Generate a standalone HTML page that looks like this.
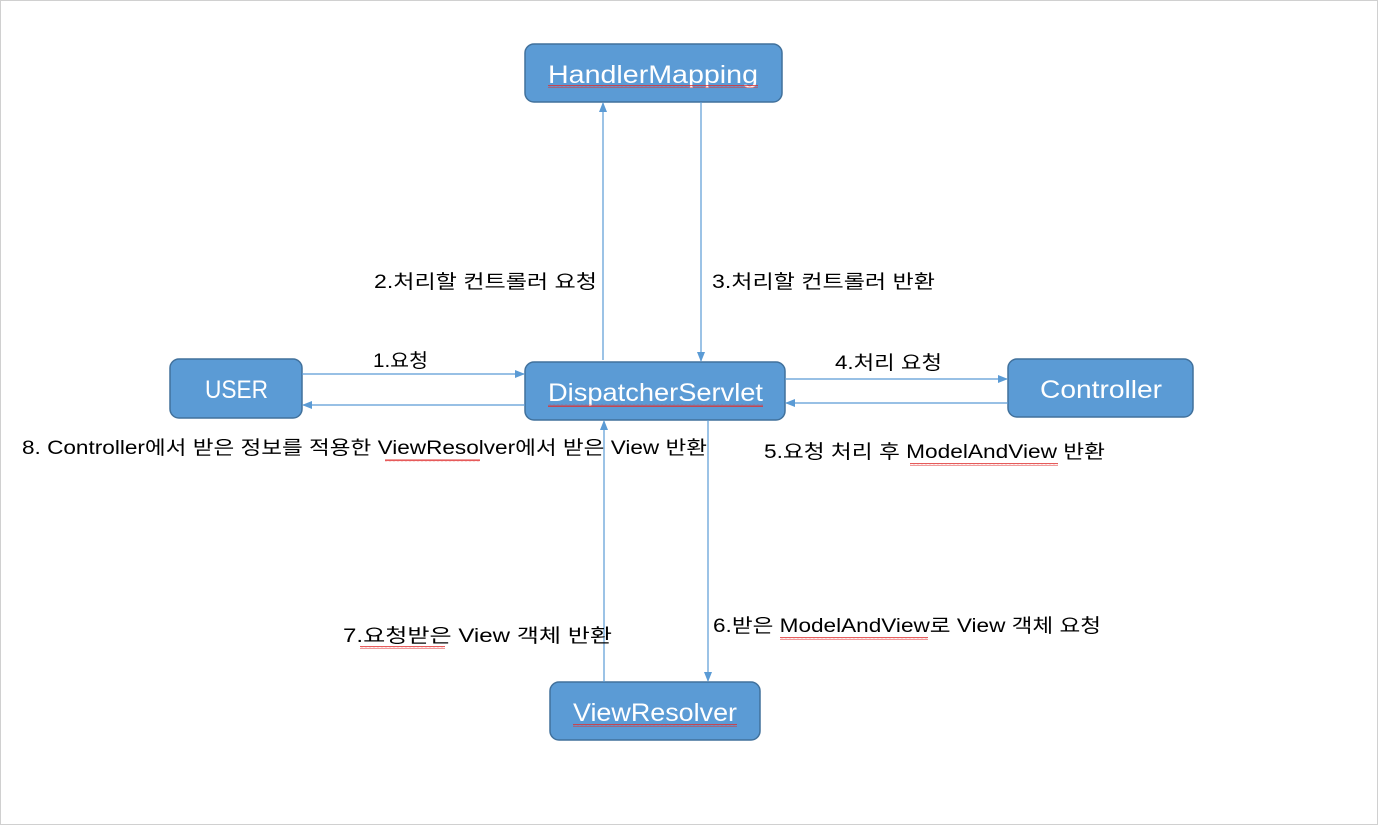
<!DOCTYPE html>
<html><head><meta charset="utf-8"><style>
html,body{margin:0;padding:0;background:#fff;}
svg{display:block;}
text{font-family:"Liberation Sans","Noto Sans CJK KR","NanumGothic",sans-serif;}
</style></head><body>
<svg width="1379" height="825" viewBox="0 0 1379 825">
<defs>
<marker id="a" markerWidth="10" markerHeight="10" refX="9" refY="5" orient="auto" markerUnits="userSpaceOnUse">
<path d="M0,1 L10,5 L0,9 z" fill="#5b9bd5"/></marker>
<pattern id="w" width="4" height="3" patternUnits="userSpaceOnUse"><path d="M0,2 L1,0.5 L2,2 L3,0.5 L4,2" stroke="#e03030" stroke-width="0.8" fill="none"/></pattern>
</defs>
<rect x="0.5" y="0.5" width="1377" height="824" fill="#fff" stroke="#d0d0d0"/>
<g fill="#5b9bd5" stroke="#41719c" stroke-width="1.5">
<rect x="525" y="44" width="257" height="58" rx="9"/>
<rect x="170" y="359" width="132" height="59" rx="9"/>
<rect x="525" y="362" width="260" height="58" rx="9"/>
<rect x="1008" y="359" width="185" height="58" rx="9"/>
<rect x="550" y="682" width="210" height="58" rx="9"/>
</g>
<g fill="#fff" font-size="25" lengthAdjust="spacingAndGlyphs">
<text x="548" y="83" textLength="210" lengthAdjust="spacingAndGlyphs">HandlerMapping</text>
<text x="205" y="398" textLength="63" lengthAdjust="spacingAndGlyphs">USER</text>
<text x="548" y="401" textLength="215" lengthAdjust="spacingAndGlyphs">DispatcherServlet</text>
<text x="1040" y="398" textLength="122" lengthAdjust="spacingAndGlyphs">Controller</text>
<text x="573" y="721" textLength="164" lengthAdjust="spacingAndGlyphs">ViewResolver</text>
</g>
<g fill="url(#w)">
<rect x="548" y="85" width="210" height="3"/>
<rect x="548" y="404" width="215" height="3"/>
<rect x="573" y="724" width="164" height="3"/>
</g>
<g stroke="#5b9bd5" stroke-width="1.2" fill="none" marker-end="url(#a)">
<line x1="603" y1="360" x2="603" y2="103"/>
<line x1="701" y1="102" x2="701" y2="361"/>
<line x1="302" y1="374" x2="524" y2="374"/>
<line x1="525" y1="405" x2="303" y2="405"/>
<line x1="785" y1="379" x2="1007" y2="379"/>
<line x1="1008" y1="403" x2="786" y2="403"/>
<line x1="708" y1="420" x2="708" y2="681"/>
<line x1="604" y1="682" x2="604" y2="421"/>
</g>
<g fill="#000" font-size="19">
<text x="374" y="288" textLength="223" lengthAdjust="spacingAndGlyphs">2.처리할 컨트롤러 요청</text>
<text x="712" y="288" textLength="223" lengthAdjust="spacingAndGlyphs">3.처리할 컨트롤러 반환</text>
<text x="373" y="367" textLength="55" lengthAdjust="spacingAndGlyphs">1.요청</text>
<text x="835" y="369" textLength="107" lengthAdjust="spacingAndGlyphs">4.처리 요청</text>
<text x="22" y="454" textLength="685" lengthAdjust="spacingAndGlyphs">8. Controller에서 받은 정보를 적용한 ViewResolver에서 받은 View 반환</text>
<text x="764" y="458" textLength="341" lengthAdjust="spacingAndGlyphs">5.요청 처리 후 ModelAndView 반환</text>
<text x="343" y="642" textLength="269" lengthAdjust="spacingAndGlyphs">7.요청받은 View 객체 반환</text>
<text x="713" y="632" textLength="388" lengthAdjust="spacingAndGlyphs">6.받은 ModelAndView로 View 객체 요청</text>
</g>
<g fill="url(#w)">
<rect x="385" y="459" width="95" height="3"/>
<rect x="910" y="463" width="148" height="3"/>
<rect x="360" y="646" width="85" height="3"/>
<rect x="780" y="637" width="148" height="3"/>
</g>
</svg>
</body></html>
